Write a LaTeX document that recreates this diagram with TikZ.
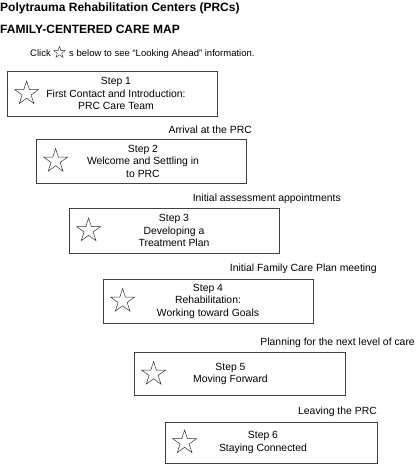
\documentclass[tikz,border=0pt]{standalone}
\usepackage{fontspec}
\setmainfont{Liberation Sans}
\usetikzlibrary{shapes.geometric,calc}
\begin{document}
\begin{tikzpicture}[x=1pt,y=-1pt,
  stepbox/.style={draw=black!75, line width=0.8pt, minimum width=210pt, minimum height=45pt, inner sep=0pt},
  steptext/.style={align=center, font=\fontsize{10.4}{12.5}\selectfont, inner sep=0pt},
  lbl/.style={font=\fontsize{10.4}{12.5}\selectfont, inner sep=0pt, anchor=base east},
  starmark/.style={star, star points=5, star point ratio=2.618, draw=black!80, line width=0.5pt, minimum size=25pt, inner sep=0pt},
  smallstar/.style={starmark, minimum size=12pt, line width=0.4pt},
  titletext/.style={font=\fontsize{12}{14}\selectfont\bfseries, inner sep=0pt, anchor=base west},
  notetext/.style={font=\fontsize{9.5}{11}\selectfont, inner sep=0pt, anchor=base west}]
\useasboundingbox (0,0) rectangle (416,467);
\fill[white] (0,0) rectangle (416,467);

\node[titletext] (t1) at (0,11) {Polytrauma Rehabilitation Centers (PRCs)};
\node[titletext] (t2) at (0,33.5) {FAMILY-CENTERED CARE MAP};
\node[notetext] (click) at (30,56) {Click};
\node[smallstar] (cstar) at (59.5,52.5) {};
\node[notetext] (clicktail) at (69,56) {s below to see “Looking Ahead” information.};

% boxes
\node[stepbox] (b1) at (112,93.5) {};
\node[stepbox, minimum height=44pt] (b2) at (141,161) {};
\node[stepbox] (b3) at (174,230.5) {};
\node[stepbox, minimum height=44pt] (b4) at (208,301) {};
\node[stepbox, minimum width=211pt, minimum height=43pt] (b5) at (239.5,374) {};
\node[stepbox, minimum width=212pt, minimum height=41pt] (b6) at (271,442.5) {};

% stars
\foreach \i in {1,...,6} {
  \node[starmark] (s\i) at ($(b\i.west)+(20,0)$) {};
}

% texts
\node[steptext] (x1) at ($(b1.center)+(4,0)$) {Step 1\\First Contact and Introduction:\\PRC Care Team};
\node[steptext] (x2) at ($(b2.center)+(2,0)$) {Step 2\\Welcome and Settling in\\to PRC};
\node[steptext] (x3) at ($(b3.center)+(0,0)$) {Step 3\\Developing a\\Treatment Plan};
\node[steptext] (x4) at ($(b4.center)+(0,0)$) {Step 4\\Rehabilitation:\\Working toward Goals};
\node[steptext] (x5) at ($(b5.center)+(-9,0)$) {Step 5\\Moving Forward};
\node[steptext] (x6) at ($(b6.center)+(-8,0)$) {Step 6\\Staying Connected};

% transition labels
\node[lbl] (l1) at (252,133) {Arrival at the PRC};
\node[lbl] (l2) at (341,201) {Initial assessment appointments};
\node[lbl] (l3) at (377,271) {Initial Family Care Plan meeting};
\node[lbl] (l4) at (415,345) {Planning for the next level of care};
\node[lbl] (l5) at (377,414) {Leaving the PRC};
\end{tikzpicture}
\end{document}
